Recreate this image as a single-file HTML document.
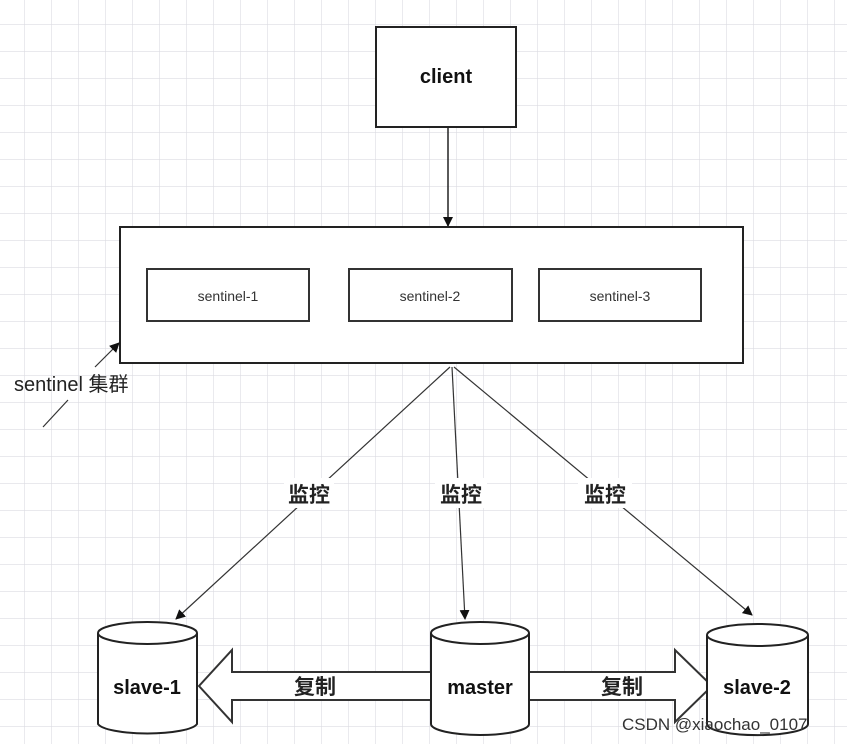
<!DOCTYPE html>
<html><head><meta charset="utf-8"><style>
html,body{margin:0;padding:0;background:#fff;}
body{width:847px;height:744px;overflow:hidden;}
</style></head><body>
<svg width="847" height="744" xmlns="http://www.w3.org/2000/svg" font-family="Liberation Sans, Noto Sans CJK SC, sans-serif">
<defs>
<pattern id="g" width="27" height="27" patternUnits="userSpaceOnUse" x="-2" y="-2">
<path d="M27 0V27M0 27H27" stroke="#dcdce2" stroke-width="1.2" fill="none"/>
</pattern>
<marker id="a" markerWidth="10" markerHeight="10" refX="9" refY="5" orient="auto" markerUnits="userSpaceOnUse"><path d="M0,0 L10,5 L0,10z" fill="#111"/></marker>
</defs>
<rect width="847" height="744" fill="url(#g)"/>
<rect x="376" y="27" width="140" height="100" fill="#fff" stroke="#222" stroke-width="2"/>
<text x="446" y="83" font-size="20" text-anchor="middle" fill="#111" font-weight="bold">client</text>
<line x1="448" y1="127" x2="448" y2="226" stroke="#222" stroke-width="1.5" marker-end="url(#a)"/>
<rect x="120" y="227" width="623" height="136" fill="#fff" stroke="#222" stroke-width="2"/>
<rect x="147" y="269" width="162" height="52" fill="#fff" stroke="#333" stroke-width="2"/>
<rect x="349" y="269" width="163" height="52" fill="#fff" stroke="#333" stroke-width="2"/>
<rect x="539" y="269" width="162" height="52" fill="#fff" stroke="#333" stroke-width="2"/>
<text x="228" y="301" font-size="14" text-anchor="middle" fill="#333">sentinel-1</text>
<text x="430" y="301" font-size="14" text-anchor="middle" fill="#333">sentinel-2</text>
<text x="620" y="301" font-size="14" text-anchor="middle" fill="#333">sentinel-3</text>
<line x1="95" y1="367" x2="119" y2="343" stroke="#333" stroke-width="1.2" marker-end="url(#a)"/>
<line x1="43" y1="427" x2="68" y2="400" stroke="#333" stroke-width="1.2"/>
<text x="14" y="391" font-size="20" fill="#222">sentinel 集群</text>
<line x1="450" y1="367" x2="176" y2="619" stroke="#333" stroke-width="1.2" marker-end="url(#a)"/>
<line x1="452" y1="367" x2="465" y2="619" stroke="#333" stroke-width="1.2" marker-end="url(#a)"/>
<line x1="454" y1="367" x2="752" y2="615" stroke="#333" stroke-width="1.2" marker-end="url(#a)"/>
<rect x="284" y="478" width="50" height="30" fill="#fff"/>
<rect x="435" y="478" width="52" height="30" fill="#fff"/>
<rect x="578" y="478" width="54" height="30" fill="#fff"/>
<text x="309" y="502" font-size="21" text-anchor="middle" fill="#222" font-weight="bold">监控</text>
<text x="461" y="502" font-size="21" text-anchor="middle" fill="#222" font-weight="bold">监控</text>
<text x="605" y="502" font-size="21" text-anchor="middle" fill="#222" font-weight="bold">监控</text>
<path d="M431 672 H232 V650 L199 686 L232 722 V700 H431" fill="#fff" stroke="#333" stroke-width="2"/>
<path d="M529 672 H675 V650 L712 686 L675 722 V700 H529" fill="#fff" stroke="#333" stroke-width="2"/>
<text x="315" y="694" font-size="21" text-anchor="middle" fill="#222" font-weight="bold">复制</text>
<text x="622" y="694" font-size="21" text-anchor="middle" fill="#222" font-weight="bold">复制</text>
<g fill="#fff" stroke="#222" stroke-width="2">
<path d="M98 633 V724 A50 11 0 0 0 197 724 V633"/>
<ellipse cx="147.5" cy="633" rx="49.5" ry="11"/>
<path d="M431 633 V724 A49 11 0 0 0 529 724 V633"/>
<ellipse cx="480" cy="633" rx="49" ry="11"/>
<path d="M707 635 V724 A50 11 0 0 0 808 724 V635"/>
<ellipse cx="757.5" cy="635" rx="50.5" ry="11"/>
</g>
<text x="147" y="694" font-size="20" text-anchor="middle" fill="#111" font-weight="bold">slave-1</text>
<text x="480" y="694" font-size="20" text-anchor="middle" fill="#111" font-weight="bold">master</text>
<text x="757" y="694" font-size="20" text-anchor="middle" fill="#111" font-weight="bold">slave-2</text>
<text x="622" y="730" font-size="17" fill="#333">CSDN @xiaochao_0107</text>
</svg>
</body></html>
